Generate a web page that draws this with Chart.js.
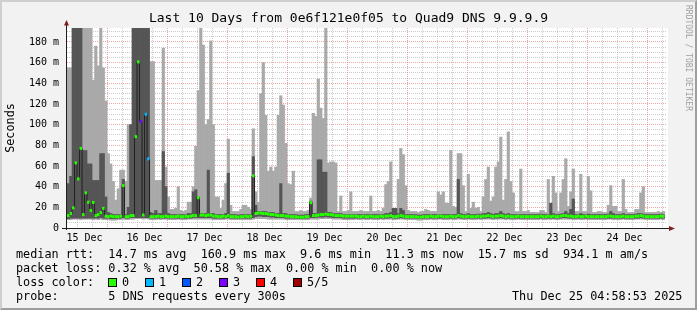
<!DOCTYPE html>
<html>
<head>
<meta charset="utf-8">
<title>Last 10 Days from 0e6f121e0f05 to Quad9 DNS 9.9.9.9</title>
<script src="https://cdn.jsdelivr.net/npm/chart.js@4.4.1/dist/chart.umd.min.js"></script>
<style>
  html, body { margin:0; padding:0; background:#f2f2f2; }
  #wrap { position:relative; width:697px; height:310px; overflow:hidden; background:#f2f2f2; }
  #c { position:absolute; left:0; top:0; }
  #frame { position:absolute; left:0; top:0; width:697px; height:310px; box-sizing:border-box;
           border-top:2px solid #cfcfcf; border-left:2px solid #cfcfcf;
           border-right:2px solid #9e9e9e; border-bottom:2px solid #9e9e9e; pointer-events:none; }
  .txt { position:absolute; font-family:'DejaVu Sans Mono', monospace; font-size:11.8px; line-height:14px; white-space:pre; color:#000; }
  .sq { position:absolute; width:7px; height:7px; border:1px solid #000; }
  #wm { position:absolute; left:692px; top:5px; transform-origin:0 0; transform:rotate(90deg);
        font-family:'DejaVu Sans Mono', monospace; font-size:8px; line-height:8px; color:#a0a0a0; white-space:pre; }
</style>
</head>
<body>
<div id="wrap">
  <canvas id="c" width="697" height="310"></canvas>
  <div id="legend"></div>
  <div id="wm">RRDTOOL / TOBI OETIKER</div>
  <div id="frame"></div>
</div>
<script>
// ---------------- data (one value per hour, 15 Dec 05:00 .. 25 Dec 03:00) ----------------
const TITLE = 'Last 10 Days from 0e6f121e0f05 to Quad9 DNS 9.9.9.9';
const Y_TITLE = 'Seconds';
const DAY_LABELS = ['15 Dec','16 Dec','17 Dec','18 Dec','19 Dec','20 Dec','21 Dec','22 Dec','23 Dec','24 Dec'];
const FIRST_HOUR = 5;                       // hours after 15 Dec 00:00
const X_MIN = 4 + 58/60 + 53/3600;          // 15 Dec 04:58:53
const X_MAX = X_MIN + 240;                  // 25 Dec 04:58:53
const Y_MAX = 193.5;                        // ms (top of plot)

// smoke: lowest ping (p1), 2nd (p2), 4th (p4), highest (p5), in ms
const p1 = [
  8,8,8.5,8.5,8.5,8,8.5,8.5,8.5,8.5,8,8.5,8,8.5,8,8,8,7.5,7.5,
  7.5,8,8,8.5,8,8,8.5,8.5,9,9,9,8.5,9,8.5,8,8,8,8.5,8,8.5,8.5,8,8,8,
  8,8.5,8,8,8,8.5,8.5,8.5,8.5,8.5,8.5,8.5,8.5,8.5,8.5,8,8,8,8,8,8.5,8.5,8,8,
  8,8,8,8,8,8,8,8.5,9,9,9,9,9,8.5,8.5,8.5,8.5,8.5,8.5,8.5,8,8,8,8,
  8,8,8,8,8,8,8.5,8.5,8.5,8.5,9,9,9,9,9,8.5,8.5,8.5,8.5,8,8,8,8,8,
  8.5,8,8,8.5,8,8,8.5,8,8,8,8.5,8,8.5,8.5,8.5,8,8,8.5,8.5,8.5,8,8,8,8,
  8,7.5,7.5,8,8,8,8.5,8,8,8.5,8.5,8,8,8,8.5,8,8,8.5,8.5,8,8,8.5,8,8,
  8,8.5,8,8.5,8.5,8.5,8.5,8,8.5,8.5,8.5,8.5,8,8.5,8,8,8,8.5,8,8,8,8,8,8,
  8,8,8.5,8,8,8.5,8,8.5,8,8,8.5,8.5,8.5,8.5,8.5,8,8,8.5,8,8,8.5,8,8,8,
  8,8,8,8,8,8.5,8.5,8,8,8,8,8.5,8,8,8,8,8.5,8.5,8.5,8.5,8,8,8,8,
  8,8,8.5,8
];
const p2 = [
  9,9.5,9.5,9.5,9.5,9.5,9.5,9.5,9.5,9.5,9.5,9.5,9.5,10,9.5,9.5,9.5,9,9,
  9,9.5,9.5,10,9.5,9.5,10,10,10,10,10,10,10,10,9.5,9.5,9.5,9.5,9.5,9.5,9.5,9.5,9.5,9.5,
  9.5,9.5,9.5,9.5,9.5,9.5,9.5,10,10,10,10,10,10,10,10,9.5,9.5,9.5,9.5,9.5,9.5,10,9.5,9.5,
  9.5,9,9.5,9.5,9.5,9.5,9.5,10,11,11.5,11.5,11,11,11,10.5,10.5,10,10,10,10,9.5,9.5,9.5,9.5,
  9.5,9,9,9,9.5,9.5,10,10,10,10.5,10.5,10.5,11,10.5,10.5,10,10,10,10,9.5,9.5,9.5,9.5,9.5,
  9.5,9.5,9.5,9.5,9.5,9.5,9.5,9.5,9.5,9.5,9.5,9.5,9.5,9.5,10,9.5,9.5,9.5,10,9.5,9.5,9.5,9.5,9.5,
  9.5,9,9,9.5,9.5,9.5,9.5,9.5,9.5,9.5,9.5,9.5,9.5,9.5,9.5,9.5,9.5,10,9.5,9.5,9.5,9.5,9.5,9.5,
  9.5,9.5,9.5,9.5,9.5,10,9.5,9.5,9.5,9.5,10,9.5,9.5,9.5,9.5,9.5,9.5,9.5,9.5,9.5,9.5,9.5,9.5,9.5,
  9.5,9.5,9.5,9.5,9.5,9.5,9.5,9.5,9.5,9.5,9.5,10,10,9.5,9.5,9.5,9.5,9.5,9.5,9.5,9.5,9.5,9.5,9.5,
  9.5,9.5,9.5,9.5,9.5,9.5,9.5,9.5,9.5,9.5,9.5,9.5,9.5,9.5,9.5,9.5,9.5,9.5,10,9.5,9.5,9.5,9.5,9.5,
  9.5,9.5,9.5,9.5
];
const p4 = [
  43,50,200,200,200,200,75,75,62,62,46,46,46,72,72,30,15,14,13,
  13,13,13,47,13,20,100,200,200,200,200,200,200,200,15,14,17,14,14,74,40,14,13,13,
  13,13,13,13,13,14,14,35,37,30,14,14,14,56,14,14,13,13,13,13,14,53,13,13,
  13,12.5,13,13,13,13,13,69,22,16,16,16,16,15,15,15,14,14,43,14,14,13,13,13,
  13,12.5,12.5,12.5,13,13,26,14,14,66,66,54,54,15,15,14,14,14,14,13,13,13,13,13,
  13,13,13,13,13,13,13,13,13,13,13,13,14,14,15,19,19,14,19,17,13,13,13,13,
  13,12.5,12.5,13,13,13,13,13,13,13,13,13,13,13,13,13,13,47,14,13,13,14,13,13,
  13,13.5,13,14,14,15,14,13,14,14,16,14,13,14,13,13,13,13,13,13,13,13,13,13,
  13,13,13.5,13,13,13,24,14,13,13,13.5,14,16,14,18,28,13,13,14,13,13,13.5,13,13,
  13,13,13,13,13,13.5,16,14,13,13,13,14,13,13,13,13,13.5,14,14,13.5,13,13,13,13,
  13,13,13.5,13
];
const p5 = [
  155,155,200,200,200,200,200,200,200,200,143,176,157,200,155,123,72,62,45,
  27,38,56,56,45,100,100,200,200,200,200,200,200,200,161,161,46,46,46,174,59,30,18,18,
  19,40,17,16,17,25,25,40,79,133,200,177,100,105,181,100,30,30,19,27,43,86,22,16,
  16,16,18,22,22,20,18,96,35,25,130,160,109,55,59,55,59,109,128,119,82,43,42,55,
  16,16,17,16,16,17,29,111,108,144,116,106,196,63,64,64,63,16,31,16,16,17,35,16,
  16,16,17,16,16,16,31,16,16,17,16,19,42,45,64,16,17,47,77,71,41,17,16,16,
  16,15,16,16,18,17,16,16,16,35,32,35,24,24,75,21,20,72,72,41,16,52,19,25,
  19,20,16,30,47,59,26,30,59,64,88,27,47,93,45,34,16,16,57,16,16,17,15,15,
  15,15,17,17,15,47,16,50,34,16,34,47,67,21,35,57,16,16,52,16,16,50,36,15,
  15,16,16,15,15,22,41,21,21,16,16,47,18,15,15,15,18,18,34,40,15,15,15,15,
  15,16,15,16
];
// median rtt (ms)
const med = [
  12,14,19.5,63,47.5,77,13,34,25,17,24.7,12,13,15,19,11.5,11,11.5,11,
  11,11,11.5,41,11,11,12,12,88.4,160.7,103,12.6,110,67,11,11,11,11.5,11,11,11.5,11,11,11,
  11,11.5,11,11,11.5,11,11.5,12,12,29.3,12.5,12.5,12,12.5,12.5,11.5,11.5,11,11,11.5,11,12,11,11,
  11,10.5,11,11,11.5,11,11.5,50.5,14,14.5,14.5,14,14,13.5,13,13,12.5,12,12,12,11.5,11.5,11,11,
  11,10.5,10.5,10.5,11,11,24.5,12,12,12.5,13,13,13.5,13,13,12.5,12,12,12,11.5,11.5,11.5,11.5,11.5,
  11.5,11,11,11.5,11,11,11.5,11,11,11,11.5,11,11.5,11.5,12,11,11,11.5,12,11.5,11,11,11,11,
  11,10.5,10.5,11,11,11,11.5,11,11,11.5,11.5,11,11,11,11.5,11,11,12,11.5,11,11,11.5,11,11,
  11,11.5,11,11.5,11.5,12,11.5,11,11.5,11.5,12,11.5,11,11.5,11,11,11,11.5,11,11,11,11,11,11,
  11,11,11.5,11,11,11.5,11,11.5,11,11,11.5,12,12,11.5,11.5,11,11,11.5,11,11,11.5,11,11,11,
  11,11,11,11,11,11.5,11.5,11,11,11,11,11.5,11,11,11,11,11.5,11.5,12,11.5,11,11,11,11,
  11,11,11.5,11.3
];
// number of lost requests (of 5) per hour
const loss = [
  0,0,0,0,0,0,0,0,0,0,0,0,0,0,0,0,0,0,0,
  0,0,0,0,0,0,0,0,0,0,3,0,1,1,0,0,0,0,0,0,0,0,0,0,
  0,0,0,0,0,0,0,0,0,0,0,0,0,0,0,0,0,0,0,0,0,0,0,0,
  0,0,0,0,0,0,0,0,0,0,0,0,0,0,0,0,0,0,0,0,0,0,0,0,
  0,0,0,0,0,0,0,0,0,0,0,0,0,0,0,0,0,0,0,0,0,0,0,0,
  0,0,0,0,0,0,0,0,0,0,0,0,0,0,0,0,0,0,0,0,0,0,0,0,
  0,0,0,0,0,0,0,0,0,0,0,0,0,0,0,0,0,0,0,0,0,0,0,0,
  0,0,0,0,0,0,0,0,0,0,0,0,0,0,0,0,0,0,0,0,0,0,0,0,
  0,0,0,0,0,0,0,0,0,0,0,0,0,0,0,0,0,0,0,0,0,0,0,0,
  0,0,0,0,0,0,0,0,0,0,0,0,0,0,0,0,0,0,0,0,0,0,0,0,
  0,0,0,0
];
const LOSS_COLORS = ['#26ff00','#00b8ff','#0059ff','#7e00ff','#ff0000','#a10000'];
const LOSS_LABELS = ['0','1','2','3','4','5/5'];

const STAT_LINES = [
  'median rtt:  14.7 ms avg  160.9 ms max  9.6 ms min  11.3 ms now  15.7 ms sd  934.1 m am/s',
  'packet loss: 0.32 % avg  50.58 % max  0.00 % min  0.00 % now',
  'loss color:',
  'probe:       5 DNS requests every 300s'
];
const DATE_TEXT = 'Thu Dec 25 04:58:53 2025';

// tick positions (hours since 15 Dec 00:00 / ms)
const X_TICKS = [];
for (let h = 6; h <= 240; h += 6) X_TICKS.push(h);
const Y_TICKS = [];
for (let v = 0; v <= 190; v += 5) Y_TICKS.push(v);

// ---------------- styling ----------------
const LIGHT = '#a9a9a9';
const DARK = '#555555';
const GRID = 'rgba(143,143,143,0.45)';
const MGRID = 'rgba(222,79,79,0.5)';
const FONT = 'DejaVu Sans Mono';

const HOURS = p5.map((_, i) => FIRST_HOUR + i);
const barData = (lo, hi) => HOURS.map((h, i) => ({ x: h + 0.5, y: [lo[i], hi[i]] }));
const medData = HOURS.map((h, i) => ({ x: h + 0.5, y: med[i] }));

const framePlugin = {
  id: 'rrdFrame',
  beforeDraw(chart) {
    const { ctx, chartArea: a } = chart;
    ctx.save();
    ctx.fillStyle = '#ffffff';
    ctx.fillRect(a.left, a.top, a.right - a.left + 1, a.bottom - a.top);
    ctx.restore();
  },
  afterDraw(chart) {
    const { ctx, chartArea: a } = chart;
    ctx.save();
    ctx.strokeStyle = '#1f1f1f';
    ctx.lineWidth = 1;
    ctx.beginPath();
    ctx.moveTo(a.left - 0.5, a.bottom + 2);
    ctx.lineTo(a.left - 0.5, a.top - 3);
    ctx.moveTo(a.left - 5, a.bottom + 0.5);
    ctx.lineTo(a.right + 3, a.bottom + 0.5);
    ctx.stroke();
    ctx.fillStyle = '#801f1f';
    ctx.beginPath();
    ctx.moveTo(a.left - 3, a.top - 2.5);
    ctx.lineTo(a.left + 2, a.top - 2.5);
    ctx.lineTo(a.left - 0.5, a.top - 8);
    ctx.closePath();
    ctx.fill();
    ctx.beginPath();
    ctx.moveTo(a.right + 2, a.bottom - 2);
    ctx.lineTo(a.right + 2, a.bottom + 3);
    ctx.lineTo(a.right + 8, a.bottom + 0.5);
    ctx.closePath();
    ctx.fill();
    ctx.restore();
  }
};

new Chart(document.getElementById('c').getContext('2d'), {
  data: {
    datasets: [
      { type: 'line', label: 'median (loss colour)', data: medData, showLine: false,
        pointStyle: 'line', pointRadius: 1.25, pointHoverRadius: 1.25,
        pointBorderWidth: 3, pointHoverBorderWidth: 3,
        pointBorderColor: c => LOSS_COLORS[loss[c.dataIndex]], order: 1 },
      { type: 'line', label: 'median', data: medData, stepped: 'middle',
        borderColor: '#202020', borderWidth: 1, pointRadius: 0, order: 2 },
      { type: 'bar', label: 'smoke inner', data: barData(p2, p4), backgroundColor: DARK,
        grouped: false, barPercentage: 1, categoryPercentage: 1, borderWidth: 0, order: 3 },
      { type: 'bar', label: 'smoke outer', data: barData(p1, p5), backgroundColor: LIGHT,
        grouped: false, barPercentage: 1, categoryPercentage: 1, borderWidth: 0, order: 4 }
    ]
  },
  options: {
    responsive: false,
    devicePixelRatio: 1,
    animation: false,
    events: [],
    layout: { padding: { left: 3, right: 3, top: 0, bottom: 62 } },
    plugins: {
      legend: { display: false },
      tooltip: { enabled: false },
      title: { display: true, text: TITLE, color: '#000',
               font: { family: FONT, size: 13, weight: 'normal' },
               padding: { top: 11, bottom: 1.4 } }
    },
    scales: {
      x: {
        type: 'linear', min: X_MIN, max: X_MAX, offset: false,
        afterBuildTicks: s => { s.ticks = X_TICKS.map(v => ({ value: v })); },
        afterFit: s => { s.height = 20; },
        ticks: { autoSkip: false, maxRotation: 0, minRotation: 0, padding: 4, color: '#000',
                 font: { family: FONT, size: 10 },
                 callback: v => (v % 24 === 12 ? DAY_LABELS[(v - 12) / 24] : '') },
        grid: { color: c => (c.tick && c.tick.value % 24 === 0 ? MGRID : GRID), lineWidth: 1, drawTicks: false },
        border: { display: false, dash: [1, 1] },
        z: 1
      },
      y: {
        type: 'linear', min: 0, max: Y_MAX,
        afterBuildTicks: s => { s.ticks = Y_TICKS.map(v => ({ value: v })); },
        afterFit: s => { s.width = 64; },
        ticks: { autoSkip: false, padding: 8, color: '#000', font: { family: FONT, size: 10 },
                 callback: v => (v % 20 === 0 ? (v === 0 ? '0' : v + ' m') : '') },
        grid: { color: c => (c.tick && c.tick.value % 20 === 0 ? MGRID : GRID), lineWidth: 1, drawTicks: false },
        border: { display: false, dash: [1, 1] },
        title: { display: true, text: Y_TITLE, color: '#000', font: { family: FONT, size: 11.8 },
                 padding: { top: 1, bottom: 0 } },
        z: 1
      },
      y2: {
        position: 'right', display: true,
        afterFit: s => { s.width = 27; },
        grid: { display: false }, ticks: { display: false }, border: { display: false }
      }
    }
  },
  plugins: [framePlugin]
});

// ---------------- legend / statistics text ----------------
const legend = document.getElementById('legend');
const LINE_TOPS = [247, 261, 275, 289];
STAT_LINES.forEach((t, i) => {
  const d = document.createElement('div');
  d.className = 'txt'; d.style.left = '16px'; d.style.top = LINE_TOPS[i] + 'px';
  d.textContent = t; legend.appendChild(d);
});
const SQ_X = [108, 145, 182, 219, 256, 293];
LOSS_COLORS.forEach((col, i) => {
  const s = document.createElement('div');
  s.className = 'sq'; s.style.left = SQ_X[i] + 'px'; s.style.top = '278px'; s.style.background = col;
  legend.appendChild(s);
  const l = document.createElement('div');
  l.className = 'txt'; l.style.left = (SQ_X[i] + 14) + 'px'; l.style.top = LINE_TOPS[2] + 'px';
  l.textContent = LOSS_LABELS[i]; legend.appendChild(l);
});
const dt = document.createElement('div');
dt.className = 'txt'; dt.style.left = '512px'; dt.style.top = LINE_TOPS[3] + 'px';
dt.textContent = DATE_TEXT; legend.appendChild(dt);
</script>
</body>
</html>
